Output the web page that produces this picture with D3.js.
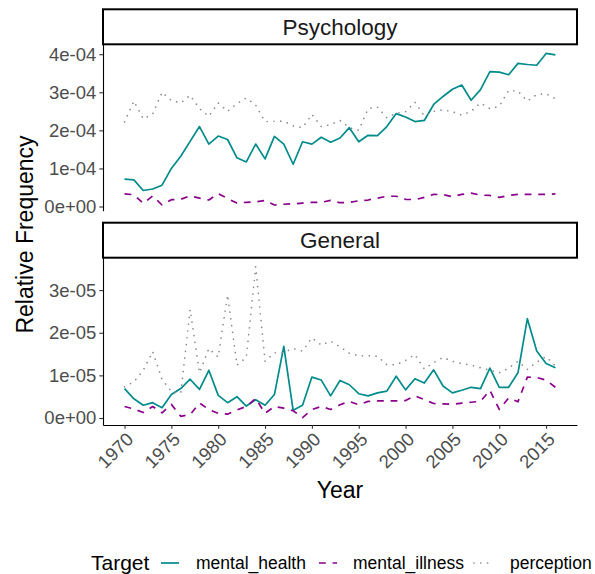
<!DOCTYPE html>
<html>
<head>
<meta charset="utf-8">
<script src="https://cdn.jsdelivr.net/npm/d3@7"></script>
<style>
  html, body { margin: 0; padding: 0; background: #ffffff; }
  svg { display: block; }
  text { font-family: "Liberation Sans", Arial, Helvetica, sans-serif; }
</style>
</head>
<body>
<svg id="chart" width="595" height="574"></svg>
<script>
// ---------------- data ----------------
const years = [1970,1971,1972,1973,1974,1975,1976,1977,1978,1979,
               1980,1981,1982,1983,1984,1985,1986,1987,1988,1989,
               1990,1991,1992,1993,1994,1995,1996,1997,1998,1999,
               2000,2001,2002,2003,2004,2005,2006,2007,2008,2009,
               2010,2011,2012,2013,2014,2015,2016];

const targets = ["mental_health", "mental_illness", "perception"];
const panels = ["Psychology", "General"];

// Psychology panel
const psyMentalHealth = [
  7.2e-5, 7.0e-5, 4.2e-5, 4.6e-5, 5.6e-5, 1.00e-4, 1.32e-4, 1.71e-4, 2.10e-4, 1.64e-4,
  1.85e-4, 1.76e-4, 1.28e-4, 1.17e-4, 1.64e-4, 1.25e-4, 1.84e-4, 1.64e-4, 1.11e-4, 1.70e-4,
  1.64e-4, 1.82e-4, 1.69e-4, 1.80e-4, 2.07e-4, 1.70e-4, 1.87e-4, 1.86e-4, 2.10e-4, 2.44e-4,
  2.35e-4, 2.23e-4, 2.26e-4, 2.68e-4, 2.89e-4, 3.08e-4, 3.19e-4, 2.79e-4, 3.07e-4, 3.54e-4,
  3.53e-4, 3.46e-4, 3.76e-4, 3.73e-4, 3.71e-4, 4.02e-4, 3.98e-4];
const psyMentalIllness = [
  3.3e-5, 3.1e-5, 0.8e-5, 2.8e-5, 0.4e-5, 1.8e-5, 1.9e-5, 2.8e-5, 2.2e-5, 1.7e-5,
  3.4e-5, 2.1e-5, 0.9e-5, 1.1e-5, 1.2e-5, 1.6e-5, 0.4e-5, 0.6e-5, 0.7e-5, 0.9e-5,
  1.1e-5, 1.1e-5, 1.6e-5, 1.0e-5, 1.1e-5, 1.5e-5, 1.7e-5, 2.2e-5, 2.7e-5, 2.7e-5,
  1.9e-5, 1.8e-5, 2.4e-5, 3.2e-5, 3.1e-5, 2.6e-5, 3.2e-5, 3.5e-5, 3.0e-5, 2.9e-5,
  2.4e-5, 2.9e-5, 3.2e-5, 3.2e-5, 3.2e-5, 3.2e-5, 3.3e-5];
const psyPerception = [
  2.22e-4, 2.77e-4, 2.30e-4, 2.43e-4, 3.00e-4, 2.78e-4, 2.72e-4, 2.92e-4, 2.57e-4, 2.37e-4,
  2.72e-4, 2.50e-4, 2.70e-4, 2.85e-4, 2.66e-4, 2.23e-4, 2.24e-4, 2.24e-4, 2.12e-4, 2.07e-4,
  2.42e-4, 2.10e-4, 2.15e-4, 2.26e-4, 2.07e-4, 2.00e-4, 2.57e-4, 2.61e-4, 2.33e-4, 2.45e-4,
  2.49e-4, 2.74e-4, 2.38e-4, 2.50e-4, 2.54e-4, 2.49e-4, 2.40e-4, 2.50e-4, 2.72e-4, 2.57e-4,
  2.63e-4, 3.05e-4, 3.03e-4, 2.77e-4, 2.94e-4, 2.96e-4, 2.83e-4];

// General panel
const genMentalHealth = [
  6.9e-6, 4.5e-6, 3.0e-6, 3.6e-6, 2.4e-6, 5.5e-6, 6.9e-6, 9.1e-6, 6.7e-6, 1.12e-5,
  5.3e-6, 3.6e-6, 5.0e-6, 2.8e-6, 4.3e-6, 3.0e-6, 5.5e-6, 1.68e-5, 1.8e-6, 3.0e-6,
  9.6e-6, 8.9e-6, 5.2e-6, 8.8e-6, 7.8e-6, 5.7e-6, 5.2e-6, 5.9e-6, 6.3e-6, 9.8e-6,
  6.6e-6, 9.2e-6, 8.2e-6, 1.13e-5, 7.5e-6, 5.9e-6, 6.5e-6, 7.2e-6, 6.9e-6, 1.17e-5,
  7.2e-6, 7.2e-6, 1.06e-5, 2.33e-5, 1.57e-5, 1.28e-5, 1.18e-5];
const genMentalIllness = [
  2.7e-6, 2.1e-6, 1.3e-6, 2.7e-6, 1.2e-6, 3.2e-6, 0.4e-6, 0.8e-6, 3.5e-6, 2.0e-6,
  1.1e-6, 0.9e-6, 1.9e-6, 2.7e-6, 4.6e-6, 1.1e-6, 2.7e-6, 2.3e-6, 1.7e-6, 0.1e-6,
  2.0e-6, 2.7e-6, 2.0e-6, 3.1e-6, 3.9e-6, 3.1e-6, 3.9e-6, 4.0e-6, 4.0e-6, 4.0e-6,
  4.1e-6, 5.2e-6, 4.3e-6, 3.4e-6, 3.3e-6, 3.2e-6, 3.5e-6, 3.7e-6, 3.9e-6, 6.5e-6,
  2.0e-6, 4.7e-6, 3.8e-6, 9.6e-6, 9.5e-6, 8.9e-6, 7.2e-6];
const genPerception = [
  7.3e-6, 8.5e-6, 1.12e-5, 1.56e-5, 9.1e-6, 6.2e-6, 5.8e-6, 2.54e-5, 1.06e-5, 1.63e-5,
  1.43e-5, 2.89e-5, 1.24e-5, 1.42e-5, 3.55e-5, 1.33e-5, 1.53e-5, 1.54e-5, 1.63e-5, 1.57e-5,
  1.88e-5, 1.71e-5, 1.80e-5, 1.67e-5, 1.52e-5, 1.46e-5, 1.46e-5, 1.45e-5, 1.25e-5, 1.25e-5,
  1.35e-5, 1.49e-5, 1.15e-5, 1.30e-5, 1.42e-5, 1.33e-5, 1.28e-5, 1.24e-5, 1.18e-5, 1.12e-5,
  1.06e-5, 1.17e-5, 1.33e-5, 1.14e-5, 1.31e-5, 1.44e-5, 1.22e-5];

// axis ticks
const xTicks = [1970,1975,1980,1985,1990,1995,2000,2005,2010,2015];
const xTickLabels = ["1970","1975","1980","1985","1990","1995","2000","2005","2010","2015"];
const psyTicks = [0, 1e-4, 2e-4, 3e-4, 4e-4];
const psyTickLabels = ["0e+00","1e-04","2e-04","3e-04","4e-04"];
const genTicks = [0, 1e-5, 2e-5, 3e-5];
const genTickLabels = ["0e+00","1e-05","2e-05","3e-05"];

// ---------------- layout / styles ----------------
const colors = { mental_health: "#008B8B", mental_illness: "#8B008B", perception: "#8c8c8c" };
const LW = 1.7;
const dashes = { mental_health: null, mental_illness: `${4*LW},${4*LW}`, perception: `${0.01},${4*LW}` };

const svg = d3.select("#chart");
const plotLeft = 103, plotRight = 577;

const x = d3.scaleLinear().domain([1970 - 2.3, 2016 + 2.3]).range([plotLeft, plotRight]);

const panelDefs = [
  { name: panels[0], stripTop: 9.3, stripBottom: 44.3, bottom: 210.7,
    domain: [-0.11e-4, 4.26e-4], ticks: psyTicks, labels: psyTickLabels,
    series: { mental_health: psyMentalHealth, mental_illness: psyMentalIllness, perception: psyPerception },
    xAxis: false },
  { name: panels[1], stripTop: 222.7, stripBottom: 257.7, bottom: 425,
    domain: [-0.164e-5, 3.76e-5], ticks: genTicks, labels: genTickLabels,
    series: { mental_health: genMentalHealth, mental_illness: genMentalIllness, perception: genPerception },
    xAxis: true }
];

panelDefs.forEach(p => {
  const y = d3.scaleLinear().domain(p.domain).range([p.bottom, p.stripBottom]);

  // strip
  svg.append("rect")
    .attr("x", plotLeft).attr("y", p.stripTop)
    .attr("width", plotRight - plotLeft).attr("height", p.stripBottom - p.stripTop)
    .attr("fill", "#ffffff").attr("stroke", "#000000").attr("stroke-width", 2);
  svg.append("text")
    .attr("x", (plotLeft + plotRight) / 2).attr("y", (p.stripTop + p.stripBottom) / 2)
    .attr("dy", "0.35em").attr("text-anchor", "middle")
    .attr("font-size", 22.5).attr("fill", "#1a1a1a").text(p.name);

  // lines
  const line = d3.line().x((d, i) => x(years[i])).y(d => y(d));
  targets.forEach(t => {
    const path = svg.append("path")
      .datum(p.series[t])
      .attr("d", line)
      .attr("fill", "none")
      .attr("stroke", colors[t])
      .attr("stroke-width", LW)
      .attr("stroke-linejoin", "round");
    if (t === "perception") path.attr("stroke-linecap", "round").attr("stroke-dasharray", dashes[t]);
    else if (dashes[t]) path.attr("stroke-linecap", "butt").attr("stroke-dasharray", dashes[t]);
  });

  // y axis
  const yAxis = d3.axisLeft(y).tickValues(p.ticks)
    .tickFormat((d, i) => p.labels[i]).tickSizeInner(3.7).tickSizeOuter(0).tickPadding(3);
  const gy = svg.append("g").attr("transform", `translate(${plotLeft},0)`).call(yAxis);
  gy.select(".domain").attr("stroke", "#000").attr("stroke-width", 1.1);
  gy.selectAll(".tick line").attr("stroke", "#333333").attr("stroke-width", 1.1);
  gy.selectAll(".tick text").attr("font-size", 18.5).attr("fill", "#4d4d4d")
    .attr("font-family", "Liberation Sans, Arial, sans-serif");

  if (p.xAxis) {
    const xAxis = d3.axisBottom(x).tickValues(xTicks)
      .tickFormat((d, i) => xTickLabels[i]).tickSizeInner(3.7).tickSizeOuter(0);
    const gx = svg.append("g").attr("transform", `translate(0,${p.bottom})`).call(xAxis);
    gx.select(".domain").attr("stroke", "#000").attr("stroke-width", 1.1);
    gx.selectAll(".tick line").attr("stroke", "#333333").attr("stroke-width", 1.1);
    gx.selectAll(".tick text")
      .attr("font-size", 18.5).attr("fill", "#4d4d4d")
      .attr("font-family", "Liberation Sans, Arial, sans-serif")
      .attr("text-anchor", "end")
      .attr("x", 0).attr("y", 0).attr("dy", "0.72em")
      .attr("transform", "translate(0,6) rotate(-45)");
  }
});

// axis titles
svg.append("text")
  .attr("transform", `translate(33.3,234.5) rotate(-90)`)
  .attr("text-anchor", "middle").attr("font-size", 23).attr("fill", "#000")
  .text("Relative Frequency");
svg.append("text")
  .attr("x", (plotLeft + plotRight) / 2).attr("y", 498)
  .attr("text-anchor", "middle").attr("font-size", 23).attr("fill", "#000")
  .text("Year");

// legend
const legY = 563;
svg.append("text").attr("x", 91).attr("y", legY).attr("dy", "0.35em")
  .attr("font-size", 21).attr("fill", "#000").text("Target");
const legendKeys = [
  { t: targets[0], cx: 170, lx: 196 },
  { t: targets[1], cx: 328, lx: 353 },
  { t: targets[2], cx: 483, lx: 510 }
];
legendKeys.forEach(k => {
  const seg = svg.append("line")
    .attr("x1", k.cx - 9).attr("x2", k.cx + 9).attr("y1", legY).attr("y2", legY)
    .attr("stroke", colors[k.t]).attr("stroke-width", LW);
  if (k.t === "perception") seg.attr("stroke-linecap", "round").attr("stroke-dasharray", dashes[k.t]);
  else if (dashes[k.t]) seg.attr("stroke-dasharray", dashes[k.t]);
  svg.append("text").attr("x", k.lx).attr("y", legY).attr("dy", "0.35em")
    .attr("font-size", 17.5).attr("fill", "#000").text(k.t);
});
</script>
</body>
</html>
